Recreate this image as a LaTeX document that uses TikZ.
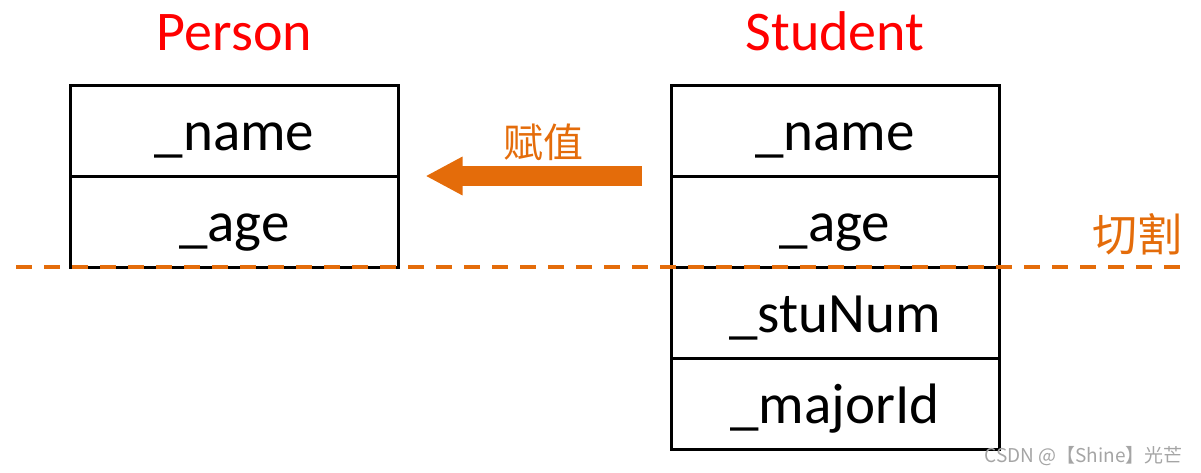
\documentclass[tikz,border=0pt]{standalone}
\usepackage{fontspec}
\setmainfont{Carlito}
\newfontfamily\cjk{Noto Sans CJK SC}
\usetikzlibrary{positioning,arrows.meta}
\definecolor{cutorange}{RGB}{228,108,10}
\definecolor{titlered}{RGB}{255,0,0}
\definecolor{markgray}{RGB}{165,165,165}
\tikzset{
  cell/.style={draw, line width=3pt, minimum width=328pt, minimum height=91pt,
    inner sep=0pt, outer sep=0pt, text height=42pt, text depth=3pt,
    font=\fontsize{57}{60}\selectfont},
  classtitle/.style={anchor=base, text=titlered, font=\fontsize{56}{60}\selectfont},
  assign arrow/.style={draw=cutorange, line width=20pt,
    -{Triangle[length=37pt,width=36pt]}},
  cut line/.style={draw=cutorange, line width=4pt, dash pattern=on 16pt off 12pt},
}

\begin{document}
\begin{tikzpicture}[x=1pt, y=-1pt]
    \useasboundingbox (0,0) rectangle (1201,472);
    % person fields
    \node[cell] (p_name) at (234.5,130.5) {\_name};
    \node[cell, below=0pt of p_name] (p_age) {\_age};
    % student fields
    \node[cell] (s_name) at (835,130.5) {\_name};
    \node[cell, below=0pt of s_name] (s_age) {\_age};
    \node[cell, below=0pt of s_age] (s_stunum) {\_stuNum};
    \node[cell, below=0pt of s_stunum] (s_majorid) {\_majorId};
    % class names
    \node[classtitle] (p_title) at ([yshift=35pt]p_name.north) {Person};
    \node[classtitle] (s_title) at ([yshift=35pt]s_name.north) {Student};
    % assignment arrow
    \draw[assign arrow] ([xshift=-29pt]s_name.south west) -- ([xshift=27pt]p_name.south east);
    \node[text=cutorange, font=\cjk\fontsize{40}{44}\selectfont] (assign_label) at (543,142) {赋值};
    % cut line (drawn over the boxes)
    \coordinate (cut_left) at (16,267);
    \coordinate (cut_right) at (1183,267);
    \draw[cut line] (cut_left) -- (cut_right);
    \node[anchor=east, text=cutorange, font=\cjk\fontsize{45}{48}\selectfont, inner sep=0pt] (cut_label) at (1183,234) {切割};
    % watermark
    \node[anchor=base east, text=markgray, font=\cjk\fontsize{19}{22}\selectfont, inner sep=0pt] (mark) at (1183,462) {CSDN @【Shine】光芒};
\end{tikzpicture}
\end{document}
